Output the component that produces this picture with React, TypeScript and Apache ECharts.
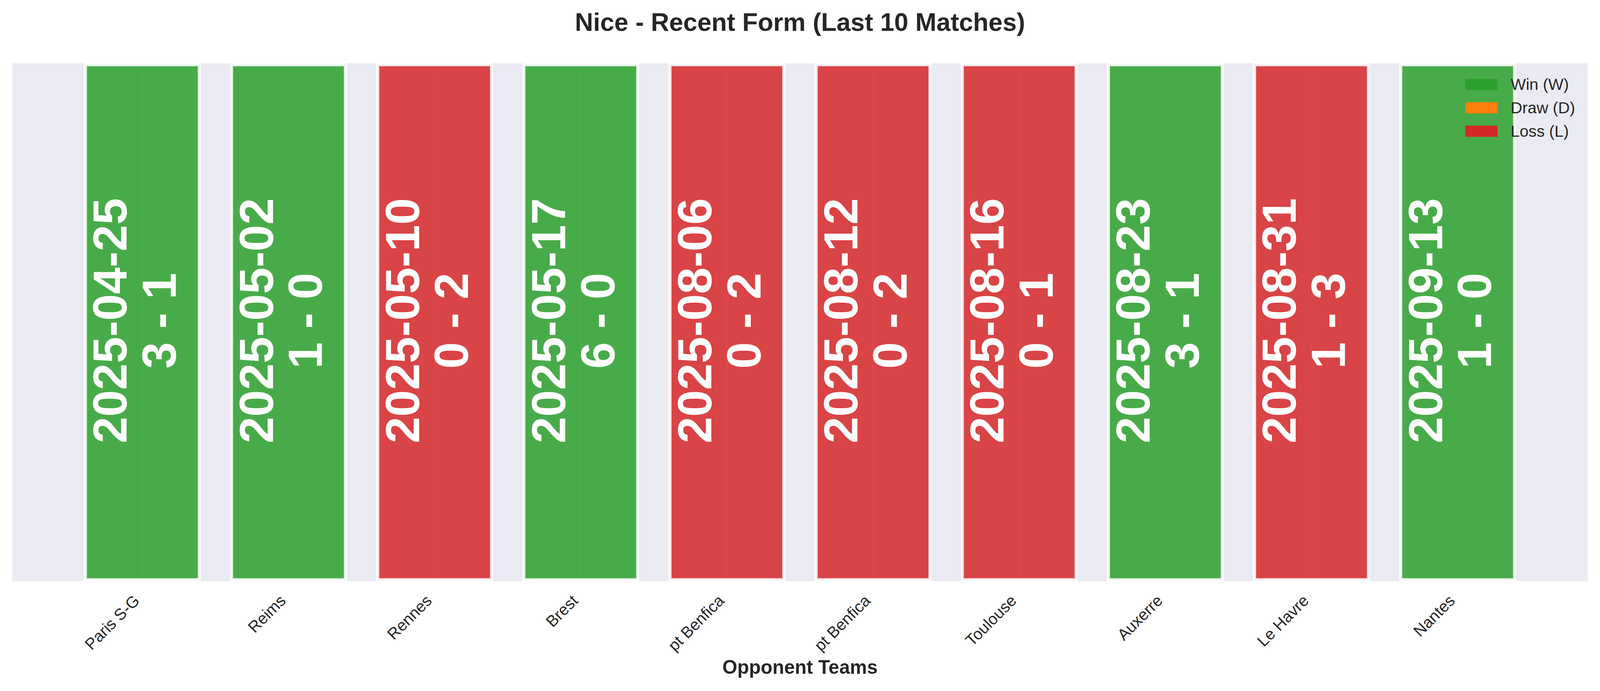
import { useEffect, useRef } from "react"
import * as echarts from "echarts"

const opponents = ["Paris S-G", "Reims", "Rennes", "Brest", "pt Benfica", "pt Benfica", "Toulouse", "Auxerre", "Le Havre", "Nantes"]
const matchDates = ["2025-04-25", "2025-05-02", "2025-05-10", "2025-05-17", "2025-08-06", "2025-08-12", "2025-08-16", "2025-08-23", "2025-08-31", "2025-09-13"]
const scores = ["3 - 1", "1 - 0", "0 - 2", "6 - 0", "0 - 2", "0 - 2", "0 - 1", "3 - 1", "1 - 3", "1 - 0"]
const results = ["W", "W", "L", "W", "L", "L", "L", "W", "L", "W"]

const outcomes = [
  { code: "W", name: "Win (W)", color: "#2ca02c" },
  { code: "D", name: "Draw (D)", color: "#ff7f0e" },
  { code: "L", name: "Loss (L)", color: "#d62728" },
]

const FONT = "'Liberation Sans', Arial, sans-serif"
const TEXT = "#262626"

// layout is designed for a 4170 x 1769 canvas and scaled to the real size
const BASE_W = 4170
const BASE_H = 1769

export default function App() {
  const chartRef = useRef<HTMLDivElement>(null)

  useEffect(() => {
    const el = chartRef.current
    if (!el) return
    const chart = echarts.init(el, null, { renderer: "svg" })

    const sx = el.clientWidth / BASE_W
    const sy = el.clientHeight / BASE_H
    const sf = Math.min(sx, sy)

    const plotLeft = 32 * sx
    const plotTop = 162 * sy
    const plotW = 4106 * sx
    const plotH = 1326 * sy
    // x range of the axes is [-0.89, 9.89] in category units
    const unit = plotW / 10.78

    const series = outcomes.map((o) => ({
      name: o.name,
      type: "bar",
      barWidth: 0.8 * unit,
      barGap: "-100%",
      clip: false,
      itemStyle: {
        color: o.color,
        opacity: 0.85,
        borderColor: "#ffffff",
        borderWidth: 8 * sf,
      },
      label: {
        show: true,
        position: "inside",
        rotate: 90,
        // offset is in the rotated frame: [up, right]
        offset: [4 * sf, -20 * sf],
        color: "#ffffff",
        opacity: 1,
        fontFamily: FONT,
        fontWeight: "bold",
        fontSize: 125 * sf,
        lineHeight: 128 * sf,
        formatter: (p: any) => `${matchDates[p.dataIndex]}\n${scores[p.dataIndex]}`,
      },
      emphasis: { disabled: true },
      data: results.map((r) => (r === o.code ? 1 : null)),
    }))

    chart.setOption({
      animation: false,
      backgroundColor: "#ffffff",
      textStyle: { fontFamily: FONT },
      title: {
        text: "Nice - Recent Form (Last 10 Matches)",
        left: "center",
        top: 19 * sy,
        textStyle: { fontFamily: FONT, fontSize: 66 * sf, fontWeight: "bold", color: TEXT },
      },
      legend: {
        orient: "vertical",
        left: 3819 * sx,
        top: 195.5 * sy,
        padding: 0,
        icon: "rect",
        itemWidth: 84 * sf,
        itemHeight: 29 * sf,
        itemGap: 19 * sy,
        itemStyle: { opacity: 1, borderWidth: 0 },
        textStyle: {
          fontFamily: FONT,
          fontSize: 42 * sf,
          color: TEXT,
          padding: [0, 0, 0, 29 * sf],
        },
        data: outcomes.map((o) => o.name),
      },
      graphic: [
        {
          type: "rect",
          z: -1,
          shape: { x: plotLeft, y: plotTop, width: plotW, height: plotH },
          style: { fill: "#eaeaf2" },
          silent: true,
        },
      ],
      grid: {
        left: plotLeft + 0.89 * unit,
        width: 9 * unit,
        top: plotTop,
        height: plotH,
      },
      xAxis: {
        type: "category",
        data: opponents,
        boundaryGap: false,
        axisLine: { show: false },
        axisTick: { show: false },
        splitLine: { show: true, lineStyle: { color: "#ffffff", width: 4 * sf } },
        axisLabel: {
          rotate: 45,
          interval: 0,
          margin: 57 * sy,
          align: "right",
          verticalAlign: "bottom",
          fontFamily: FONT,
          fontSize: 41.7 * sf,
          color: TEXT,
        },
        name: "Opponent Teams",
        nameLocation: "middle",
        nameGap: 195 * sy,
        nameMoveOverlap: false,
        nameTextStyle: { fontFamily: FONT, fontSize: 50 * sf, fontWeight: "bold", color: TEXT },
      },
      yAxis: {
        type: "value",
        min: 0,
        max: 1,
        axisLine: { show: false },
        axisTick: { show: false },
        axisLabel: { show: false },
        splitLine: { show: false },
      },
      series,
    })

    return () => {
      chart.dispose()
    }
  }, [])

  return (
    <div
      ref={chartRef}
      style={{ position: "fixed", left: 0, top: 0, width: "100vw", height: "100vh" }}
    />
  )
}
